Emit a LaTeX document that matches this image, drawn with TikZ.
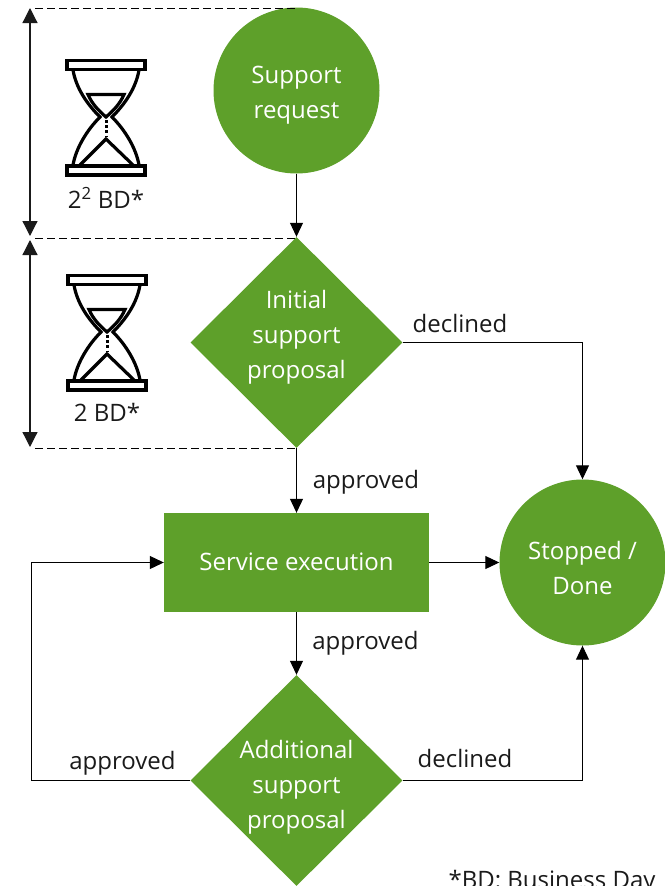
\documentclass[tikz,border=0pt]{standalone}
\usepackage{fontspec}
\setmainfont{Open Sans}
\usetikzlibrary{shapes.geometric,arrows.meta}
\definecolor{brandgreen}{HTML}{5EA02A}
\definecolor{inkdark}{HTML}{1A1A1A}
\newcommand{\lifted}[2]{\smash{\raisebox{#1}{\begin{tabular}[c]{@{}c@{}}#2\end{tabular}}}}
\tikzset{
  x=1pt,y=-1pt,
  every node/.style={font=\fontsize{24}{35}\selectfont,text=inkdark},
  roundnode/.style={circle,fill=brandgreen,minimum size=166pt,inner sep=0pt,align=center,text=white},
  choicenode/.style={diamond,aspect=1,fill=brandgreen,minimum width=212pt,minimum height=211pt,inner sep=0pt,align=center,text=white},
  tasknode/.style={rectangle,fill=brandgreen,minimum width=265pt,minimum height=99pt,inner sep=0pt,align=center,text=white},
  flow/.style={draw=black,line width=1pt,-{Triangle[width=13pt,length=14pt]}},
  span/.style={draw=inkdark,line width=1.2pt,{Triangle[width=15pt,length=15pt]}-{Triangle[width=15pt,length=15pt]}},
  guide/.style={draw=black,line width=1pt,dash pattern=on 8pt off 4pt},
  glass/.style={draw=black,line width=3.2pt,fill=none},
  flowlabel/.style={inner sep=0pt,anchor=center}
}
\newcommand{\hourglass}[2]{%
  \begin{scope}[shift={(#1,#2)}]
    \draw[glass] (-39,-29.5) rectangle (39,-20.5);
    \draw[glass] (-39,76) rectangle (39,85);
    \draw[glass] (-33,-20) .. controls (-30,-2) and (-19,14) .. (-6,27) .. controls (-19,40) and (-30,58) .. (-33,75);
    \draw[glass] (33,-20) .. controls (30,-2) and (19,14) .. (6,27) .. controls (19,40) and (30,58) .. (33,75);
    \draw[glass] (-18,4.5) -- (18,4.5) .. controls (14,14) and (7,21) .. (0,27) .. controls (-7,21) and (-14,14) .. (-18,4.5) -- cycle;
    \draw[glass] (-26,75) -- (0,49) -- (27,75);
    \draw[draw=black,line width=3pt,dash pattern=on 2.6pt off 2.6pt] (0,30) -- (0,46);
  \end{scope}}
\begin{document}
\begin{tikzpicture}
\useasboundingbox (0,0) rectangle (664,886);
\node[roundnode] (req) at (296.5,90.5) {\lifted{-10pt}{Support\\request}};
\node[choicenode] (init) at (296.5,342.5) {\lifted{-0.5pt}{Initial\\support\\proposal}};
\node[tasknode] (exec) at (296.5,562.5) {\lifted{-7pt}{Service execution}};
\node[choicenode] (add) at (296.5,780.5) {\lifted{-12.5pt}{Additional\\support\\proposal}};
\node[roundnode] (stop) at (582.5,562.5) {\lifted{-13.5pt}{Stopped /\\Done}};

\coordinate (t0) at (30,8);
\coordinate (t1a) at (30,236);
\coordinate (t1b) at (30,240);
\coordinate (t2) at (30,447);
\coordinate (g0) at (35,8);
\coordinate (g1) at (35,238.5);
\coordinate (g2) at (35,448.5);
\coordinate (la) at (31.5,780.5);
\coordinate (lb) at (31.5,562.5);

\draw[guide] (g0) -- (g0 -| req.north);
\draw[guide] (g1) -- (g1 -| init.north);
\draw[guide] (g2) -- (g2 -| init.south);
\draw[span] (t0) -- (t1a);
\draw[span] (t1b) -- (t2);

\draw[flow] (req) -- (init);
\draw[flow] (init) -- (exec);
\draw[flow] (exec) -- (add);
\draw[flow] (exec) -- (stop);
\draw[flow] (init.east) -| (stop.north);
\draw[flow] (add.east) -| (stop.south);
\draw[flow] (add.west) -- (la) -- (lb) -- (exec.west);

\hourglass{106}{90}
\hourglass{107}{305}

\node[flowlabel] (lab1) at (106,198) {2\textsuperscript{2} BD*};
\node[flowlabel] (lab2) at (107,412.5) {2 BD*};
\node[flowlabel] (lab3) at (460,323) {declined};
\node[flowlabel] (lab4) at (366,482) {approved};
\node[flowlabel] (lab5) at (365.5,643.5) {approved};
\node[flowlabel] (lab6) at (122.5,763.5) {approved};
\node[flowlabel] (lab7) at (465,758) {declined};
\node[flowlabel,anchor=base] (lab8) at (552,888) {*BD: Business Day};
\end{tikzpicture}
\end{document}
